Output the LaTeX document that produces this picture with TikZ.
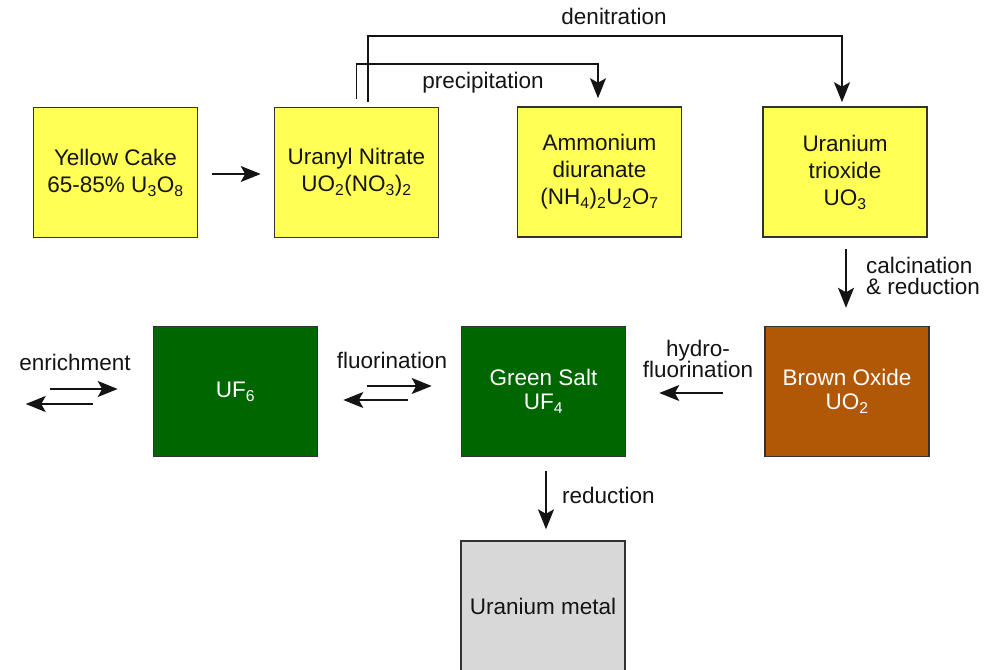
\documentclass[tikz,border=0pt]{standalone}
\usepackage{fontspec}
\setmainfont{Liberation Sans}
\usetikzlibrary{arrows.meta}
\definecolor{ybox}{RGB}{255,255,85}
\definecolor{gbox}{RGB}{0,102,0}
\definecolor{bbox}{RGB}{176,88,6}
\definecolor{mbox}{RGB}{216,216,216}
\definecolor{edge}{RGB}{50,50,50}
\definecolor{ink}{RGB}{20,20,20}
\begin{document}
\begin{tikzpicture}[x=1pt,y=-1pt,
  >={Stealth[length=20pt,width=16pt,inset=4.5pt]},
  box/.style={draw=edge, line width=1.6pt, minimum width=164pt, minimum height=130pt, inner sep=0pt, align=center, font=\fontsize{22.5}{27}\selectfont},
  ybx/.style={box, fill=ybox, text=ink},
  gbx/.style={box, fill=gbox, text=white},
  bbx/.style={box, fill=bbox, text=white},
  mbx/.style={box, fill=mbox, text=ink},
  arr/.style={draw=ink, line width=1.6pt, ->},
  lab/.style={text=ink, font=\fontsize{22.5}{21}\selectfont, inner sep=0pt, align=center}]
\fill[white] (0,0) rectangle (995,669);
\useasboundingbox (0,0) rectangle (995,669);
\clip (0,0) rectangle (995,669);

% boxes
\node[ybx] (yc) at (115.5,172.5) {Yellow Cake\\65-85\% U\textsubscript{3}O\textsubscript{8}};
\node[ybx] (un) at (356.5,172.5) {Uranyl Nitrate\\UO\textsubscript{2}(NO\textsubscript{3})\textsubscript{2}};
\node[ybx] (adu) at (599.5,172) {Ammonium\\diuranate\\(NH\textsubscript{4})\textsubscript{2}U\textsubscript{2}O\textsubscript{7}};
\node[ybx] (uto) at (845,172) {Uranium\\trioxide\\UO\textsubscript{3}};
\node[gbx] (uf6) at (235.5,391.5) {UF\textsubscript{6}};
\node[gbx, font=\fontsize{22.5}{24}\selectfont] (gs) at (543.5,391.5) {Green Salt\\UF\textsubscript{4}};
\node[bbx, font=\fontsize{22.5}{24}\selectfont] (bo) at (847,391.5) {Brown Oxide\\UO\textsubscript{2}};
\node[mbx] (um) at (543,606) {Uranium metal};

% top row
\draw[arr] ([xshift=14pt,yshift=-1.5pt]yc.east) -- ([xshift=-13pt,yshift=-1.5pt]un.west);
\draw[arr] ([yshift=7.5pt]un.north) -- ++(0,-35) -| ([xshift=-1.5pt,yshift=8pt]adu.north);
\draw[arr] ([xshift=11.5pt,yshift=4.5pt]un.north) -- ++(0,-66) -| ([xshift=-3pt,yshift=4pt]uto.north);
\node[lab] (lp) at (483,83) {precipitation};
\node[lab] (ld) at (614,16) {denitration};

% calcination
\draw[arr] ([xshift=1pt,yshift=-11pt]uto.south) -- ++(0,59);
\node[lab, anchor=west, align=left] (lc) at (866,276) {calcination\\\& reduction};

% hydrofluorination
\draw[arr] ([xshift=-41pt,yshift=-1.5pt]bo.west) -- ([xshift=33pt,yshift=-1.5pt]gs.east);
\node[lab] (lh) at (698,359) {hydro-\\fluorination};

% fluorination equilibrium
\draw[arr] ([xshift=49pt,yshift=5.5pt]uf6.east) -- ([xshift=-29pt,yshift=5.5pt]gs.west);
\draw[arr] ([xshift=-53pt,yshift=-8.5pt]gs.west) -- ([xshift=25pt,yshift=-8.5pt]uf6.east);
\node[lab] (lf) at (392,360) {fluorination};

% enrichment equilibrium
\draw[arr] ([xshift=-103pt,yshift=2.5pt]uf6.west) -- ([xshift=-35pt,yshift=2.5pt]uf6.west);
\draw[arr] ([xshift=-60pt,yshift=-12.5pt]uf6.west) -- ([xshift=-127pt,yshift=-12.5pt]uf6.west);
\node[lab] (le) at (75,362) {enrichment};

% reduction
\draw[arr] ([xshift=2.5pt,yshift=-14pt]gs.south) -- ++(0,58);
\node[lab, anchor=west] (lr) at (562,495) {reduction};
\end{tikzpicture}
\end{document}
